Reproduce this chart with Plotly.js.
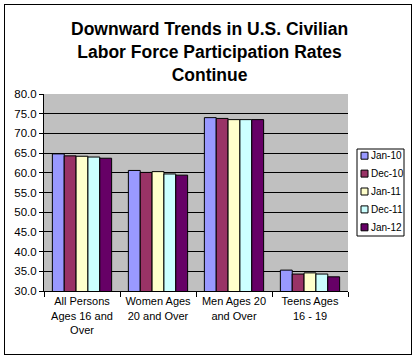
<!DOCTYPE html>
<html><head><meta charset="utf-8">
<script src="https://cdn.plot.ly/plotly-3.0.1.min.js"></script>
<style>html,body{margin:0;padding:0;background:#fff;}#wrap{position:relative;width:416px;height:358px;}
#frame{position:absolute;left:4px;top:4px;width:406px;height:349px;border:1px solid #000;pointer-events:none;}</style>
</head><body><div id="wrap"><div id="chart" style="width:416px;height:358px;"></div><div id="frame"></div></div>
<script>
const categories = ["All Persons<br>Ages 16 and<br>Over", "Women Ages<br>20 and Over", "Men Ages 20<br>and Over", "Teens Ages<br>16 - 19"];
const seriesNames = ["Jan-10", "Dec-10", "Jan-11", "Dec-11", "Jan-12"];
const jan10 = [64.8, 60.6, 74.0, 35.3];
const dec10 = [64.3, 60.1, 73.8, 34.3];
const jan11 = [64.2, 60.3, 73.5, 34.6];
const dec11 = [64.0, 59.7, 73.5, 34.3];
const jan12 = [63.7, 59.4, 73.5, 33.6];
const colors = ["#9999FF", "#993366", "#FFFFCC", "#CCFFFF", "#660066"];
const allSeries = [jan10, dec10, jan11, dec11, jan12];

const W = 416, H = 358, M = {l: 44, r: 68, t: 94, b: 67};
const pw = W - M.l - M.r, ph = H - M.t - M.b;
const px = x => (x - M.l) / pw;          // page px -> paper x
const py = y => (H - M.b - y) / ph;      // page px -> paper y
const FONT = "Arial, Liberation Sans, sans-serif";

const traces = allSeries.map((vals, i) => ({
  type: "bar", name: seriesNames[i], x: categories, y: vals,
  marker: {color: colors[i], line: {color: "#000", width: 1}}
}));

const shapes = [{type: "rect", xref: "paper", yref: "paper", x0: px(357), x1: px(404), y0: py(236), y1: py(149),
  line: {color: "#000", width: 1}, fillcolor: "#fff"}];
const annotations = [{
  text: "<b>Downward Trends in U.S. Civilian<br>Labor Force Participation Rates<br>Continue</b>",
  xref: "paper", yref: "paper", x: px(209), y: py(52), xanchor: "center", yanchor: "middle",
  showarrow: false, font: {size: 17.5, family: FONT, color: "#000"}
}];
seriesNames.forEach((name, i) => {
  const cy = 155.7 + i * 17.9;
  shapes.push({type: "rect", xref: "paper", yref: "paper", x0: px(361), x1: px(368), y0: py(cy + 3.5), y1: py(cy - 3.5),
    line: {color: "#000", width: 1}, fillcolor: colors[i]});
  annotations.push({text: name, xref: "paper", yref: "paper", x: px(369.5), y: py(cy), xanchor: "left", yanchor: "middle",
    showarrow: false, borderpad: 0, font: {size: 10, family: FONT, color: "#000"}});
});

const layout = {
  width: W, height: H, margin: M,
  paper_bgcolor: "#fff", plot_bgcolor: "#C0C0C0",
  font: {family: FONT, size: 11, color: "#000"},
  barmode: "group", bargap: 0.22, bargroupgap: 0,
  showlegend: false,
  xaxis: {type: "category", tickson: "boundaries", ticks: "outside", ticklen: 5, tickcolor: "#000", tickangle: 0,
    showline: true, linecolor: "#000", linewidth: 1, showgrid: false, tickfont: {size: 11}, fixedrange: true},
  yaxis: {range: [30, 80], dtick: 5, tickformat: ".1f", ticks: "outside", ticklen: 4, tickcolor: "#000",
    showline: true, linecolor: "#000", showgrid: true, gridcolor: "#000", gridwidth: 1,
    zeroline: false, tickfont: {size: 11.5}, fixedrange: true},
  shapes: shapes, annotations: annotations
};
Plotly.newPlot("chart", traces, layout, {displayModeBar: false, staticPlot: true});
</script>
</body></html>
